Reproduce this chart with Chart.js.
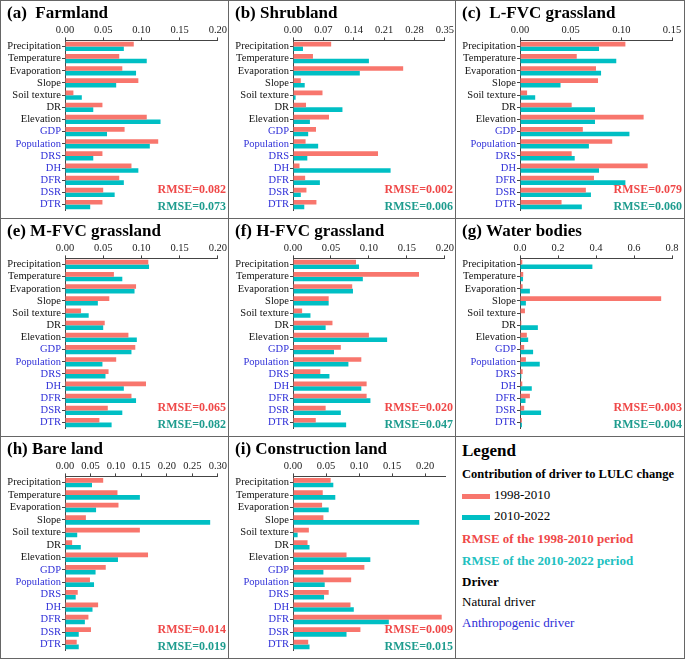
<!DOCTYPE html>
<html>
<head>
<meta charset="utf-8">
<script src="https://cdn.jsdelivr.net/npm/chart.js@4.4.0/dist/chart.umd.min.js"></script>
<style>
  body { margin: 0; background: #fff; }
  #wrap { position: relative; width: 685px; height: 659px; font-family: 'Liberation Serif', 'Times New Roman', serif; }
  .panel { position: absolute; box-sizing: border-box; border: 1px solid #666; }
  .panel canvas { position: absolute; left: 0; top: 0; }
  #legendBox div { position: absolute; left: 6px; white-space: nowrap; line-height: 1; }
  .sw { display: inline-block; width: 28px; height: 5px; vertical-align: middle; margin-right: 4px; }
</style>
</head>
<body>
<div id="wrap"></div>
<script>
// ---------------- data ----------------
const drivers = ["Precipitation", "Temperature", "Evaporation", "Slope", "Soil texture", "DR", "Elevation",
                 "GDP", "Population", "DRS", "DH", "DFR", "DSR", "DTR"];
const numNatural = 7; // first 7 are natural drivers, rest anthropogenic

const farmland1998 = [0.090, 0.071, 0.075, 0.096, 0.011, 0.049, 0.107, 0.078, 0.122, 0.049, 0.087, 0.071, 0.050, 0.049];
const farmland2010 = [0.077, 0.107, 0.093, 0.067, 0.022, 0.037, 0.125, 0.055, 0.111, 0.037, 0.096, 0.077, 0.065, 0.033];
const shrub1998    = [0.088, 0.046, 0.254, 0.018, 0.068, 0.030, 0.083, 0.053, 0.029, 0.196, 0.015, 0.028, 0.031, 0.054];
const shrub2010    = [0.023, 0.175, 0.154, 0.027, 0.006, 0.114, 0.039, 0.035, 0.058, 0.033, 0.225, 0.062, 0.018, 0.026];
const lfvc1998     = [0.104, 0.056, 0.075, 0.077, 0.007, 0.051, 0.122, 0.062, 0.091, 0.051, 0.126, 0.073, 0.065, 0.041];
const lfvc2010     = [0.078, 0.095, 0.080, 0.040, 0.015, 0.074, 0.074, 0.108, 0.068, 0.054, 0.078, 0.104, 0.070, 0.061];
const mfvc1998     = [0.109, 0.064, 0.093, 0.058, 0.021, 0.052, 0.083, 0.092, 0.067, 0.057, 0.106, 0.087, 0.056, 0.045];
const mfvc2010     = [0.110, 0.075, 0.091, 0.043, 0.031, 0.050, 0.094, 0.087, 0.049, 0.053, 0.077, 0.093, 0.075, 0.061];
const hfvc1998     = [0.083, 0.166, 0.078, 0.047, 0.012, 0.052, 0.100, 0.063, 0.090, 0.036, 0.097, 0.097, 0.043, 0.030];
const hfvc2010     = [0.087, 0.092, 0.079, 0.047, 0.023, 0.043, 0.124, 0.054, 0.073, 0.048, 0.090, 0.102, 0.063, 0.070];
const water1998    = [0.012, 0.017, 0.014, 0.743, 0.026, 0.007, 0.036, 0.022, 0.031, 0.014, 0.012, 0.052, 0.022, 0.010];
const water2010    = [0.381, 0.016, 0.052, 0.031, 0.003, 0.094, 0.043, 0.069, 0.104, 0.007, 0.062, 0.029, 0.111, 0.010];
const bare1998     = [0.075, 0.103, 0.105, 0.041, 0.147, 0.014, 0.163, 0.080, 0.049, 0.025, 0.065, 0.046, 0.051, 0.023];
const bare2010     = [0.053, 0.147, 0.061, 0.285, 0.024, 0.031, 0.104, 0.060, 0.057, 0.021, 0.054, 0.039, 0.027, 0.027];
const constr1998   = [0.057, 0.045, 0.044, 0.046, 0.024, 0.022, 0.081, 0.108, 0.088, 0.054, 0.087, 0.225, 0.102, 0.023];
const constr2010   = [0.061, 0.064, 0.054, 0.191, 0.007, 0.025, 0.117, 0.046, 0.048, 0.047, 0.092, 0.145, 0.081, 0.025];

const panelTitles = ["(a)  Farmland", "(b) Shrubland", "(c)  L-FVC grassland", "(e) M-FVC grassland",
                     "(f) H-FVC grassland", "(g) Water bodies", "(h) Bare land", "(i) Construction land"];
const series1998 = [farmland1998, shrub1998, lfvc1998, mfvc1998, hfvc1998, water1998, bare1998, constr1998];
const series2010 = [farmland2010, shrub2010, lfvc2010, mfvc2010, hfvc2010, water2010, bare2010, constr2010];
const rmse1998 = ["0.082", "0.002", "0.079", "0.065", "0.020", "0.003", "0.014", "0.009"];
const rmse2010 = ["0.073", "0.006", "0.060", "0.082", "0.047", "0.004", "0.019", "0.015"];
const axisMax  = [0.20, 0.35, 0.15, 0.20, 0.20, 0.8, 0.30, 0.23];
const axisStep = [0.05, 0.07, 0.05, 0.05, 0.05, 0.2, 0.05, 0.05];
const axisDecimals = [2, 2, 2, 2, 2, 1, 2, 2];

// ---------------- layout ----------------
const colLeft = [0, 228, 455];
const colWidth = [229, 228, 230];
const rowTop = [0, 218, 436];
const rowHeight = [219, 219, 223];
const padRight = [9, 10, 12];

const RED = "#F8766D";
const TEAL = "#00BFC4";
const serif = "'Liberation Serif', 'Times New Roman', serif";

const rmsePlugin = {
    id: "rmseText",
    afterDraw(chart) {
        const opts = chart.options.plugins.rmseText;
        const ctx = chart.ctx;
        const a = chart.chartArea;
        ctx.save();
        ctx.font = "bold 12px " + serif;
        ctx.textAlign = "right";
        ctx.textBaseline = "middle";
        ctx.fillStyle = "#EF4848";
        ctx.fillText("RMSE=" + opts.r1, chart.width - 2, a.bottom - 21);
        ctx.fillStyle = "#1E9C8E";
        ctx.fillText("RMSE=" + opts.r2, chart.width - 2, a.bottom - 4);
        ctx.restore();
    }
};

const wrap = document.getElementById("wrap");

function makePanel(col, row) {
    const div = document.createElement("div");
    div.className = "panel";
    div.style.left = colLeft[col] + "px";
    div.style.top = rowTop[row] + "px";
    div.style.width = colWidth[col] + "px";
    div.style.height = rowHeight[row] + "px";
    wrap.appendChild(div);
    return div;
}

for (let i = 0; i < 8; i++) {
    let col = i % 3;
    let row = Math.floor(i / 3);
    let div = makePanel(col, row);
    let canvas = document.createElement("canvas");
    canvas.style.width = (colWidth[col] - 2) + "px";
    canvas.style.height = (rowHeight[row] - 2) + "px";
    canvas.width = colWidth[col] - 2;
    canvas.height = rowHeight[row] - 2;
    div.appendChild(canvas);

    new Chart(canvas, {
        type: "bar",
        data: {
            labels: drivers,
            datasets: [
                { label: "1998-2010", data: series1998[i], backgroundColor: RED, barPercentage: 1, categoryPercentage: 0.76 },
                { label: "2010-2022", data: series2010[i], backgroundColor: TEAL, barPercentage: 1, categoryPercentage: 0.76 }
            ]
        },
        options: {
            indexAxis: "y",
            responsive: false,
            animation: false,
            devicePixelRatio: 1,
            layout: { padding: { left: 6, right: padRight[col], top: 0, bottom: 2 } },
            scales: {
                x: {
                    type: "linear",
                    position: "top",
                    min: 0,
                    max: axisMax[i],
                    afterFit: (scale) => { scale.height = 17; },
                    ticks: {
                        stepSize: axisStep[i],
                        includeBounds: false,
                        padding: 1,
                        color: "#222",
                        font: { family: serif, size: 10.5 },
                        callback: (v) => Number(v).toFixed(axisDecimals[i])
                    },
                    grid: { drawOnChartArea: false, tickLength: 3, color: "#444" },
                    border: { color: "#444" }
                },
                y: {
                    afterFit: (scale) => { scale.width = 58; },
                    ticks: {
                        padding: 1,
                        autoSkip: false,
                        font: { family: serif, size: 10.5 },
                        color: (c) => c.index >= numNatural ? "#2F2FD8" : "#111"
                    },
                    grid: { drawOnChartArea: false, tickLength: 3, color: "#444", offset: false },
                    border: { color: "#444" }
                }
            },
            plugins: {
                legend: { display: false },
                tooltip: { enabled: false },
                title: {
                    display: true,
                    text: panelTitles[i],
                    align: "start",
                    color: "#000",
                    font: { family: serif, size: 17, weight: "bold", lineHeight: 1.2 },
                    padding: { top: 2, bottom: 0 }
                },
                rmseText: { r1: rmse1998[i], r2: rmse2010[i] }
            }
        },
        plugins: [rmsePlugin]
    });
}

// legend panel
const legendDiv = makePanel(2, 2);
legendDiv.id = "legendBox";
legendDiv.innerHTML =
    '<div style="top:5px;font-weight:bold;font-size:17px;">Legend</div>' +
    '<div style="top:31px;font-weight:bold;font-size:12.5px;">Contribution of driver to LULC change</div>' +
    '<div style="top:51px;font-size:13px;"><span class="sw" style="background:' + RED + '"></span>1998-2010</div>' +
    '<div style="top:72px;font-size:13px;"><span class="sw" style="background:' + TEAL + '"></span>2010-2022</div>' +
    '<div style="top:95px;font-weight:bold;font-size:13px;color:#EF4848;">RMSE of the 1998-2010 period</div>' +
    '<div style="top:117px;font-weight:bold;font-size:13px;color:#20C0C0;">RMSE of the 2010-2022 period</div>' +
    '<div style="top:138px;font-weight:bold;font-size:13px;">Driver</div>' +
    '<div style="top:158px;font-size:13px;">Natural driver</div>' +
    '<div style="top:179px;font-size:13px;color:#2F2FD8;">Anthropogenic driver</div>';
</script>
</body>
</html>
